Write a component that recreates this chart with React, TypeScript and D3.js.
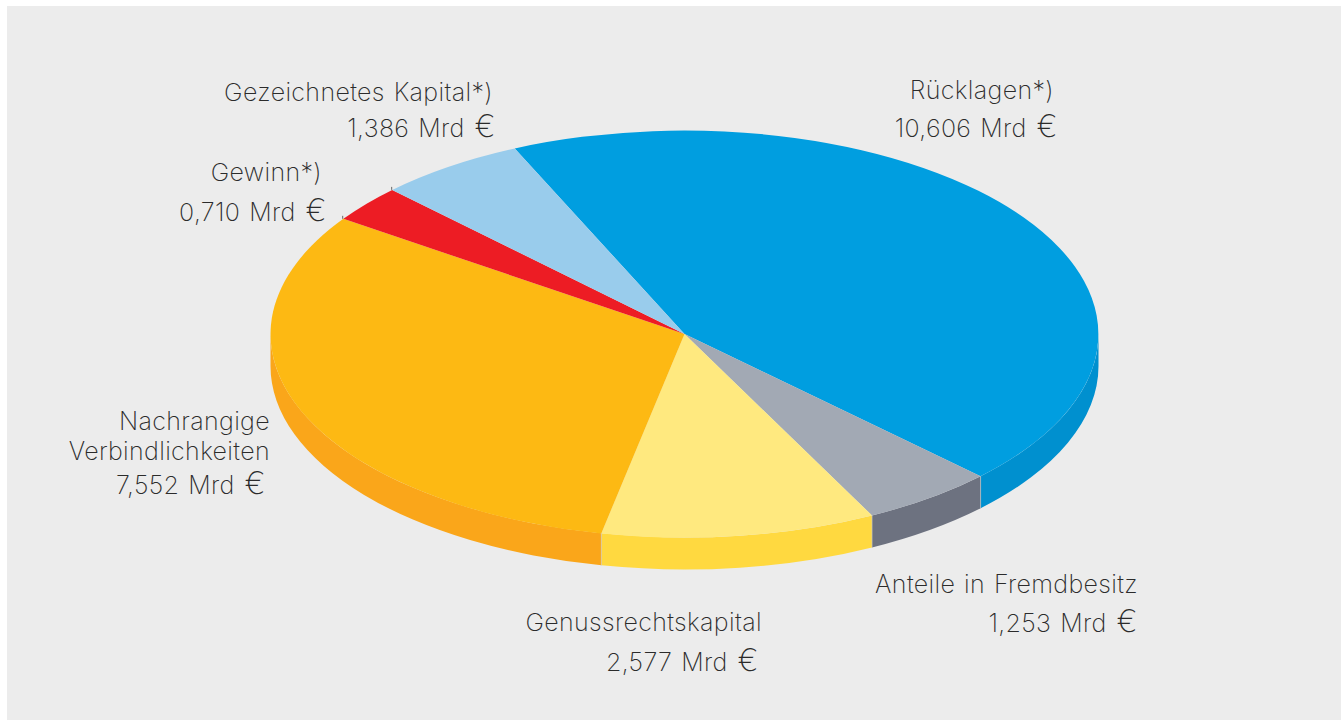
import React from 'react'
import * as d3 from 'd3'

const width = 1341
const height = 720

// Mrd EUR, clockwise from the top of the disc
const names = ['Rücklagen', 'Anteile', 'Genussrechtskapital', 'Nachrangige', 'Gewinn', 'Kapital']
const values = [10.606, 1.253, 2.577, 7.552, 0.71, 1.386]
const topColors = ['#009ee0', '#a2a9b4', '#ffe97f', '#fdb913', '#ed1c24', '#99ccec']
const sideColors = ['#0090cf', '#6d7280', '#ffd940', '#faa61a', '#ed1c24', '#99ccec']

// text, right edge, baseline
const labels: [string, number, number][] = [
  ['Gezeichnetes Kapital*)', 493, 101],
  ['1,386 Mrd €', 496, 137],
  ['Gewinn*)', 322, 181],
  ['0,710 Mrd €', 327, 221],
  ['Rücklagen*)', 1054, 99],
  ['10,606 Mrd €', 1058, 137],
  ['Nachrangige', 270, 430],
  ['Verbindlichkeiten', 270, 460],
  ['7,552 Mrd €', 266, 494],
  ['Anteile in Fremdbesitz', 1138, 593],
  ['1,253 Mrd €', 1138, 632],
  ['Genussrechtskapital', 762, 631],
  ['2,577 Mrd €', 759, 671],
]

const cx = 684.5
const cy = 334
const rx = 414
const ry = 203.5
const depth = 32
const startAngle = (-24.2 * Math.PI) / 180

const pie = d3
  .pie<number>()
  .sort(null)
  .startAngle(startAngle)
  .endAngle(startAngle + 2 * Math.PI)
const slices = pie(values)
const arc = d3.arc<d3.PieArcDatum<number>>().innerRadius(0).outerRadius(1)

const px = (a: number) => cx + rx * Math.sin(a)
const py = (a: number) => cy - ry * Math.cos(a)

// the rim only shows on the lower half of the ellipse
function sidePath(a0: number, a1: number) {
  const from = Math.max(a0, Math.PI / 2)
  const to = Math.min(a1, (3 * Math.PI) / 2)
  if (to <= from) return null
  return (
    `M${px(from)},${py(from)}` +
    `A${rx},${ry} 0 0 1 ${px(to)},${py(to)}` +
    `L${px(to)},${py(to) + depth}` +
    `A${rx},${ry} 0 0 0 ${px(from)},${py(from) + depth}Z`
  )
}

export default function App() {
  return (
    <svg
      width={width}
      height={height}
      style={{ position: 'absolute', left: 0, top: 0, display: 'block', background: '#fff' }}
    >
      <rect x={7} y={6} width={width - 7} height={height - 6} fill="#ececec" />
      {slices.map((s, i) => {
        const d = sidePath(s.startAngle, s.endAngle)
        return d ? <path key={names[i]} d={d} fill={sideColors[i]} /> : null
      })}
      <g transform={`translate(${cx},${cy}) scale(${rx},${ry})`}>
        {slices.map((s, i) => (
          <path key={names[i]} d={arc(s) as string} fill={topColors[i]} />
        ))}
      </g>
      {/* thin light seams on the rim, like the original */}
      {slices.slice(0, 3).map((s, i) => (
        <line
          key={i}
          x1={px(s.endAngle)}
          x2={px(s.endAngle)}
          y1={py(s.endAngle)}
          y2={py(s.endAngle) + depth}
          stroke="#c9ccd0"
          strokeWidth={0.6}
        />
      ))}
      {/* small crop marks at the red slice */}
      {slices.slice(3, 5).map((s, i) => (
        <line
          key={i}
          x1={px(s.endAngle) - 0.5}
          x2={px(s.endAngle) - 0.5}
          y1={py(s.endAngle) - 3}
          y2={py(s.endAngle)}
          stroke="#444"
          strokeWidth={0.8}
        />
      ))}
      <g
        fontFamily="Inter, Lato, sans-serif"
        fontWeight={250}
        fontSize={25}
        fill="#2b2b2b"
        textAnchor="end"
        letterSpacing={0.35}
        wordSpacing={1.5}
      >
        {labels.map(([t, x, y]) => {
          const isAmount = t.endsWith('€')
          return (
            <text key={t} x={x} y={y}>
              {isAmount ? t.slice(0, -2) : t}
              {isAmount && (
                <tspan dx={10} fontSize={31}>
                  €
                </tspan>
              )}
            </text>
          )
        })}
      </g>
    </svg>
  )
}
